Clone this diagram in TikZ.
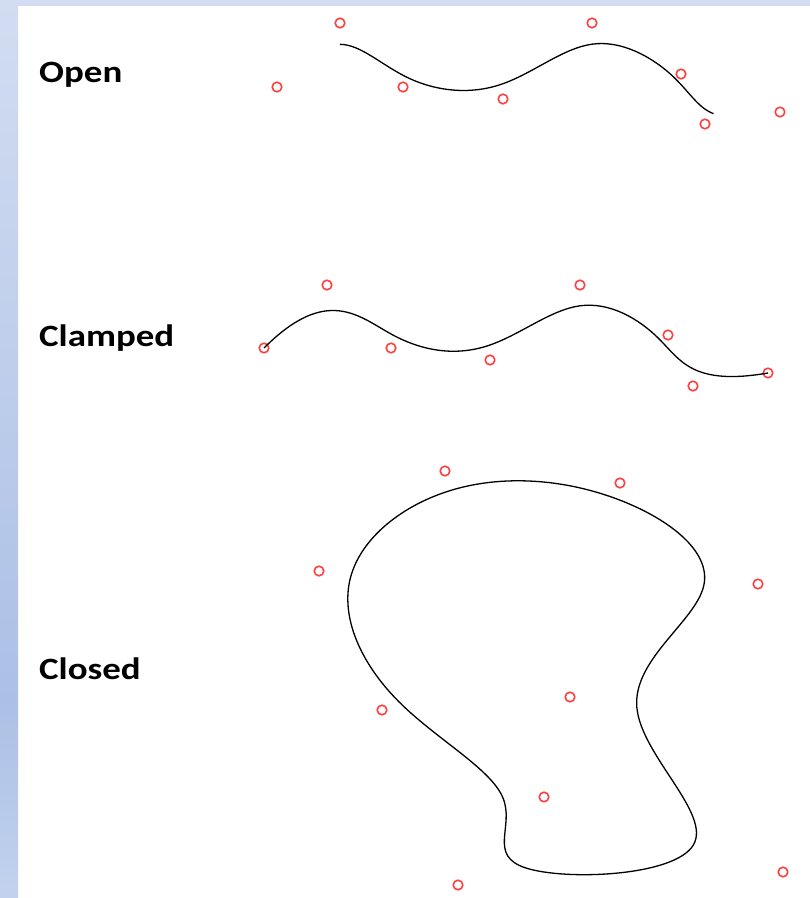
\documentclass[tikz,border=0pt]{standalone}
\usepackage{graphicx}
\usepackage{fontspec}
\setmainfont{Carlito}
\usetikzlibrary{calc}
\definecolor{cpred}{RGB}{255,64,64}
\definecolor{stripA}{RGB}{210,221,241}
\definecolor{stripB}{RGB}{172,192,230}
\definecolor{stripC}{RGB}{194,210,238}
\newcommand{\widelbl}[1]{\scalebox{1.19}[1]{#1}}
\tikzset{
  cp/.style={circle,draw=cpred,line width=1.6pt,minimum size=9.6pt,inner sep=0pt},
  curve/.style={draw=black,line width=1.3pt},
  lbl/.style={anchor=base west,inner sep=0pt,font=\bfseries\fontsize{31}{36}\selectfont},
  bseg/.style n args={3}{insert path={ .. controls ($(#1.center)!0.33333!(#2.center)$) and ($(#1.center)!0.66667!(#2.center)$) .. ($0.16667*(#1.center)+0.66667*(#2.center)+0.16667*(#3.center)$)}},
}
\begin{document}
\begin{tikzpicture}[x=1pt,y=-1pt]
\useasboundingbox (0,0) rectangle (810,898);
\fill[white] (0,0) rectangle (810,898);
% frame strips
\shade[top color=stripA,bottom color=stripB] (0,0) rectangle (18,700);
\shade[top color=stripB,bottom color=stripC] (0,700) rectangle (18,898);
\fill[stripA] (0,0) rectangle (810,6);

% labels
\node[lbl] (lopen) at (39,82) {\widelbl{Open}};
\node[lbl] (lclamped) at (39,346) {\widelbl{Clamped}};
\node[lbl] (lclosed) at (39,679) {\widelbl{Closed}};

% open control points
\node[cp] (o0) at (277,87) {};
\node[cp] (o1) at (340,23) {};
\node[cp] (o2) at (403,87) {};
\node[cp] (o3) at (503,99) {};
\node[cp] (o4) at (592,23) {};
\node[cp] (o5) at (681,74) {};
\node[cp] (o6) at (705,124) {};
\node[cp] (o7) at (780,112) {};

% clamped control points
\node[cp] (c0) at (264,348) {};
\node[cp] (c1) at (327,285) {};
\node[cp] (c2) at (391,348) {};
\node[cp] (c3) at (490,360) {};
\node[cp] (c4) at (580,285) {};
\node[cp] (c5) at (668,335) {};
\node[cp] (c6) at (693,386) {};
\node[cp] (c7) at (768,373) {};

% closed control points
\node[cp] (k0) at (445,471) {};
\node[cp] (k1) at (620,483) {};
\node[cp] (k2) at (758,584) {};
\node[cp] (k3) at (570,697) {};
\node[cp] (k4) at (783,872) {};
\node[cp] (k5) at (458,885) {};
\node[cp] (k6) at (544,797) {};
\node[cp] (k7) at (382,710) {};
\node[cp] (k8) at (319,571) {};

% open uniform B-spline
\path[curve] ($0.16667*(o0.center)+0.66667*(o1.center)+0.16667*(o2.center)$)
  [bseg={o1}{o2}{o3}] [bseg={o2}{o3}{o4}] [bseg={o3}{o4}{o5}]
  [bseg={o4}{o5}{o6}] [bseg={o5}{o6}{o7}];

% clamped B-spline
\path[curve] (c0.center) .. controls (c1.center) and ($(c1.center)!0.5!(c2.center)$)
  .. ($0.25*(c1.center)+0.58333*(c2.center)+0.16667*(c3.center)$)
  [bseg={c2}{c3}{c4}] [bseg={c3}{c4}{c5}]
  .. controls ($(c4.center)!0.33333!(c5.center)$) and ($(c4.center)!0.66667!(c5.center)$)
  .. ($0.16667*(c4.center)+0.58333*(c5.center)+0.25*(c6.center)$)
  .. controls ($(c5.center)!0.5!(c6.center)$) and (c6.center) .. (c7.center);

% closed periodic B-spline
\path[curve] ($0.16667*(k8.center)+0.66667*(k0.center)+0.16667*(k1.center)$)
  [bseg={k0}{k1}{k2}] [bseg={k1}{k2}{k3}] [bseg={k2}{k3}{k4}]
  [bseg={k3}{k4}{k5}] [bseg={k4}{k5}{k6}] [bseg={k5}{k6}{k7}]
  [bseg={k6}{k7}{k8}] [bseg={k7}{k8}{k0}] [bseg={k8}{k0}{k1}] -- cycle;
\end{tikzpicture}
\end{document}
